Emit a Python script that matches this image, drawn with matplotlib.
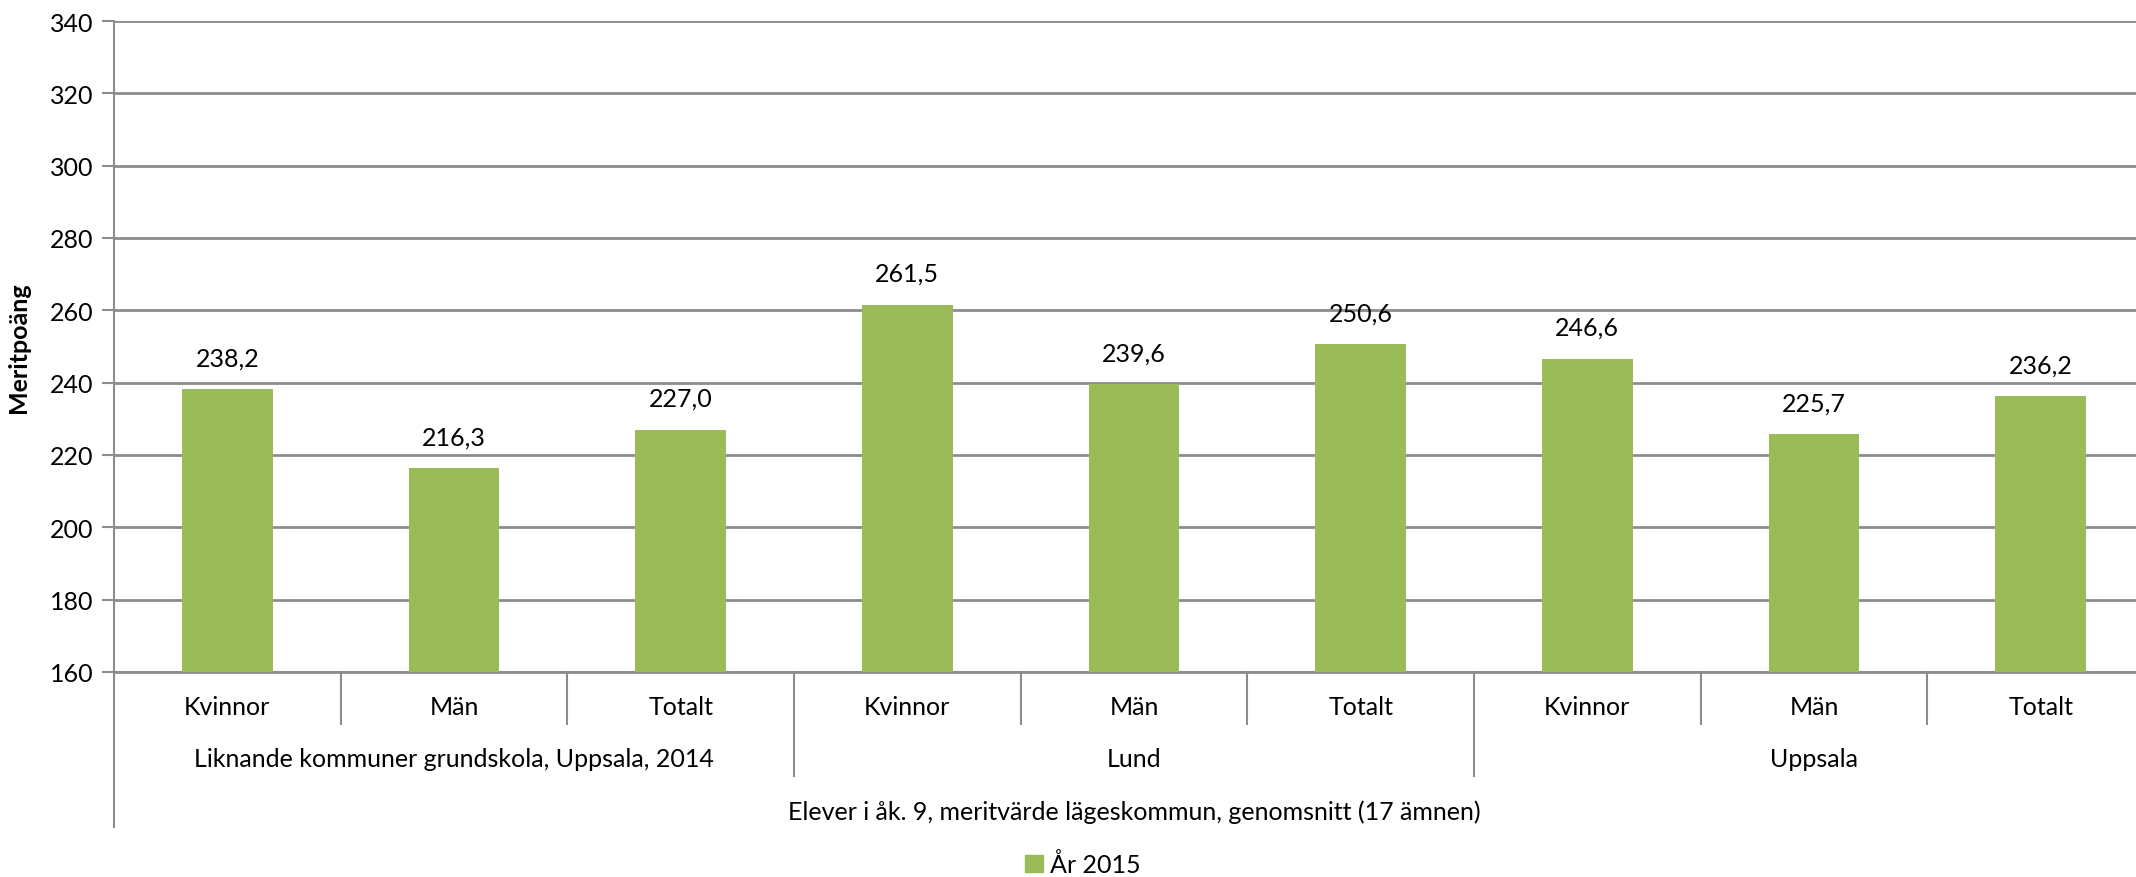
import matplotlib.pyplot as plt
import matplotlib.transforms as mtransforms

# data
kategorier = ["Kvinnor", "Män", "Totalt"] * 3
grupper = ["Liknande kommuner grundskola, Uppsala, 2014", "Lund", "Uppsala"]
varden = [238.2, 216.3, 227.0, 261.5, 239.6, 250.6, 246.6, 225.7, 236.2]
yticks = [160, 180, 200, 220, 240, 260, 280, 300, 320, 340]
serie = "År 2015"
yrubrik = "Meritpoäng"
xrubrik = "Elever i åk. 9, meritvärde lägeskommun, genomsnitt (17 ämnen)"

plt.rcParams['font.family'] = ['Lato', 'DejaVu Sans']
grid_col = "#8c8c8c"
bar_col = "#9bbb59"
fs = 18

W, H = 2136, 878
fig = plt.figure(figsize=(W / 100, H / 100), dpi=100)
left, right, top, bottom = 114, 2154, 22, 673
ax = fig.add_axes([left / W, 1 - bottom / H, (right - left) / W, (bottom - top) / H])

x = list(range(len(varden)))
ax.bar(x, varden, width=0.40, color=bar_col, zorder=3)
ax.set_xlim(-0.5, len(varden) - 0.5)
ax.set_ylim(160, 340)
ax.set_yticks(yticks)
ax.tick_params(axis='y', labelsize=fs, length=9, width=1.5, color=grid_col, pad=6)
ax.set_xticks([])
ax.yaxis.grid(True, color=grid_col, linewidth=2, zorder=0)
for s in ["top", "right"]:
    ax.spines[s].set_visible(False)
ax.spines["left"].set_color(grid_col)
ax.spines["left"].set_linewidth(1.5)
ax.spines["bottom"].set_color(grid_col)
ax.spines["bottom"].set_linewidth(2)

for xi, v in zip(x, varden):
    ax.text(xi, v + 5.5, f"{v:.1f}".replace(".", ","), ha="center", va="bottom", fontsize=fs)

ax.set_ylabel(yrubrik, fontsize=fs, fontweight="bold", labelpad=14)

trans = mtransforms.blended_transform_factory(ax.transData, ax.transAxes)
ph = bottom - top
def yax(py):
    return -(py - bottom) / ph

# kategorier och skiljelinjer under axeln
for i, k in enumerate(kategorier):
    ax.text(i, yax(708), k, transform=trans, ha="center", va="center", fontsize=fs)
for i in range(len(kategorier) + 1):
    b = i - 0.5
    if i == 0:
        y_end = yax(828)
    elif i % 3 == 0:
        y_end = yax(777)
    else:
        y_end = yax(725)
    ax.plot([b, b], [0, y_end], transform=trans, color=grid_col, linewidth=1.5, clip_on=False)

for g, namn in enumerate(grupper):
    ax.text(g * 3 + 1, yax(760), namn, transform=trans, ha="center", va="center", fontsize=fs)

ax.text((len(varden) - 1) / 2, yax(812), xrubrik, transform=trans, ha="center", va="center", fontsize=fs)

leg = ax.legend([plt.Rectangle((0, 0), 1, 1, color=bar_col)], [serie], loc="center",
                bbox_to_anchor=((1083 - left) / (right - left), yax(865)), frameon=False,
                fontsize=fs, handlelength=0.7, handleheight=0.7, handletextpad=0.3)

fig.savefig("out.png", dpi=100)
